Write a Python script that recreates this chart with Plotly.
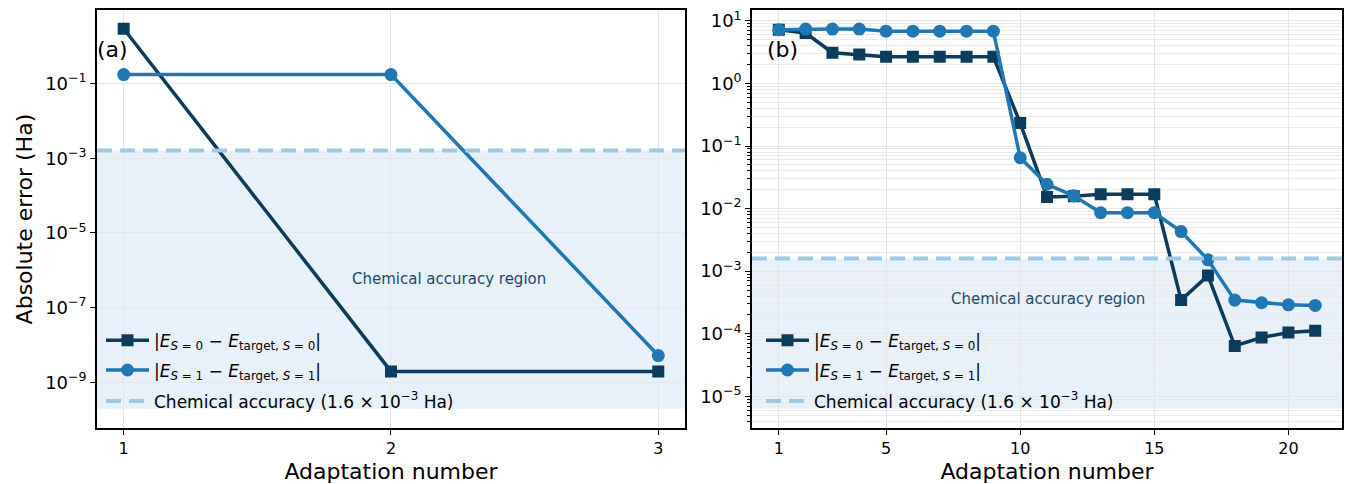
import plotly.graph_objects as go

# ---------------- data ----------------
adapt_a = [1, 2, 3]
err_s0_a = [2.93, 1.96e-9, 1.96e-9]
err_s1_a = [0.174, 0.174, 5.2e-9]

adapt_b = list(range(1, 22))
err_s0_b = [7.2, 6.4, 3.1, 2.9, 2.67, 2.67, 2.67, 2.67, 2.67, 0.233,
            0.0154, 0.0158, 0.017, 0.017, 0.017, 3.45e-4, 8.5e-4, 6.4e-5,
            8.7e-5, 1.05e-4, 1.12e-4]
err_s1_b = [7.2, 7.4, 7.4, 7.4, 6.85, 6.85, 6.85, 6.85, 6.85, 0.065,
            0.0245, 0.016, 8.6e-3, 8.6e-3, 8.6e-3, 4.3e-3, 1.52e-3, 3.45e-4,
            3.13e-4, 2.9e-4, 2.84e-4]

chem_acc = 1.6e-3

xticks_a = [1, 2, 3]
xticks_b = [1, 5, 10, 15, 20]
yexp_a = [-1, -3, -5, -7, -9]
yexp_b = [1, 0, -1, -2, -3, -4, -5]

# ---------------- styles ----------------
C0 = "#0b3c5d"
C1 = "#1f77b4"
CL = "#9ecae1"
SHADE = "rgba(198,219,239,0.40)"
TXT = "#1c4a6e"
FONT = "DejaVu Sans"
LW = 3.5
MS = 12

name0 = "|<i>E</i><sub><i>S</i> = 0</sub> − <i>E</i><sub>target, <i>S</i> = 0</sub>|"
name1 = "|<i>E</i><sub><i>S</i> = 1</sub> − <i>E</i><sub>target, <i>S</i> = 1</sub>|"
namec = "Chemical accuracy (1.6 × 10<sup>−3</sup> Ha)"


def sup(e):
    return "10<sup>" + (str(e) if e >= 0 else "−" + str(-e)) + "</sup>"


fig = go.Figure()

xr_a = [0.9, 3.1]
xr_b = [0, 22]

# panel a
fig.add_trace(go.Scatter(x=adapt_a, y=err_s0_a, mode="lines+markers", name=name0,
                         line=dict(color=C0, width=LW), marker=dict(symbol="square", size=MS, color=C0),
                         xaxis="x", yaxis="y", legend="legend"))
fig.add_trace(go.Scatter(x=adapt_a, y=err_s1_a, mode="lines+markers", name=name1,
                         line=dict(color=C1, width=LW), marker=dict(symbol="circle", size=MS + 1, color=C1),
                         xaxis="x", yaxis="y", legend="legend2"))
fig.add_trace(go.Scatter(x=xr_a, y=[chem_acc, chem_acc], mode="lines", name=namec,
                         line=dict(color=CL, width=4, dash="15px,8px"),
                         xaxis="x", yaxis="y", legend="legend3"))

# panel b
fig.add_trace(go.Scatter(x=adapt_b, y=err_s0_b, mode="lines+markers", name=name0,
                         line=dict(color=C0, width=LW), marker=dict(symbol="square", size=MS, color=C0),
                         xaxis="x2", yaxis="y2", legend="legend4"))
fig.add_trace(go.Scatter(x=adapt_b, y=err_s1_b, mode="lines+markers", name=name1,
                         line=dict(color=C1, width=LW), marker=dict(symbol="circle", size=MS + 1, color=C1),
                         xaxis="x2", yaxis="y2", legend="legend5"))
fig.add_trace(go.Scatter(x=xr_b, y=[chem_acc, chem_acc], mode="lines", name=namec,
                         line=dict(color=CL, width=4, dash="15px,8px"),
                         xaxis="x2", yaxis="y2", legend="legend6"))

# shaded regions
fig.add_shape(type="rect", xref="x domain", yref="y", x0=0, x1=1,
              y0=min(err_s0_a + err_s1_a) * 0.1, y1=chem_acc,
              fillcolor=SHADE, line=dict(width=0), layer="below")
fig.add_shape(type="rect", xref="x2 domain", yref="y2", x0=0, x1=1,
              y0=min(err_s0_b + err_s1_b) * 0.1, y1=chem_acc,
              fillcolor=SHADE, line=dict(width=0), layer="below")

GRID = "#e6e6e6"
common_x = dict(showline=True, linecolor="black", linewidth=1.5, mirror=True,
                ticks="outside", ticklen=5, tickcolor="black",
                showgrid=True, gridcolor=GRID, gridwidth=1, zeroline=False,
                tickfont=dict(family=FONT, size=16, color="black"),
                title=dict(text="Adaptation number", font=dict(family=FONT, size=22, color="black"),
                           standoff=8))

legend_rows = [340, 370, 401]
leg_a_x = 101 / 1345
leg_b_x = 761 / 1345


def leg(xp, yp):
    return dict(x=xp, y=1 - yp / 484, xanchor="left", yanchor="middle",
                xref="paper", yref="paper", bgcolor="rgba(0,0,0,0)",
                font=dict(family=FONT, size=17, color="black"), itemwidth=43)


ycommon = dict(showline=True, linecolor="black", linewidth=1.5, mirror=True,
               ticks="outside", ticklen=5, tickcolor="black",
               showgrid=True, gridcolor=GRID, zeroline=False,
               tickfont=dict(family=FONT, size=18, color="black"))

fig.update_layout(
    width=1345, height=484,
    margin=dict(l=0, r=0, t=0, b=0),
    paper_bgcolor="white", plot_bgcolor="white",
    font=dict(family=FONT, color="black"),
    xaxis=dict(domain=[0.0721, 0.5093], range=xr_a, tickvals=xticks_a, anchor="y", **common_x),
    xaxis2=dict(domain=[0.5591, 0.9978], range=xr_b, tickvals=xticks_b, anchor="y2", **common_x),
    yaxis=dict(type="log", domain=[0.1157, 0.9835], range=[-10.23, 0.97], anchor="x",
               tickvals=[10 ** e for e in yexp_a], ticktext=[sup(e) for e in yexp_a],
               title=dict(text="Absolute error (Ha)", font=dict(family=FONT, size=22, color="black"),
                          standoff=6),
               **ycommon),
    yaxis2=dict(type="log", domain=[0.1157, 0.9835], range=[-5.51, 1.175], anchor="x2",
                tickvals=[10 ** e for e in yexp_b], ticktext=[sup(e) for e in yexp_b],
                minor=dict(dtick="D1", ticks="outside", ticklen=3, tickcolor="black",
                           showgrid=True, gridcolor="#ebebeb", gridwidth=1),
                **ycommon),
    legend=leg(leg_a_x, legend_rows[0]),
    legend2=leg(leg_a_x, legend_rows[1]),
    legend3=leg(leg_a_x, legend_rows[2]),
    legend4=leg(leg_b_x, legend_rows[0]),
    legend5=leg(leg_b_x, legend_rows[1]),
    legend6=leg(leg_b_x, legend_rows[2]),
    showlegend=True,
)

fig.add_annotation(text="(a)", xref="x domain", yref="y domain", x=-0.003, y=0.905,
                   xanchor="left", yanchor="middle", showarrow=False,
                   font=dict(family=FONT, size=22, color="black"))
fig.add_annotation(text="(b)", xref="x2 domain", yref="y2 domain", x=0.022, y=0.905,
                   xanchor="left", yanchor="middle", showarrow=False,
                   font=dict(family=FONT, size=22, color="black"))
fig.add_annotation(text="Chemical accuracy region", xref="x domain", yref="y domain",
                   x=(449 - 97) / 588, y=(428 - 278) / 420, xanchor="center", yanchor="middle",
                   showarrow=False, font=dict(family=FONT, size=15, color=TXT))
fig.add_annotation(text="Chemical accuracy region", xref="x2 domain", yref="y2 domain",
                   x=(1048 - 752) / 590, y=(428 - 298) / 420, xanchor="center", yanchor="middle",
                   showarrow=False, font=dict(family=FONT, size=15, color=TXT))

fig.write_html("out.html")
